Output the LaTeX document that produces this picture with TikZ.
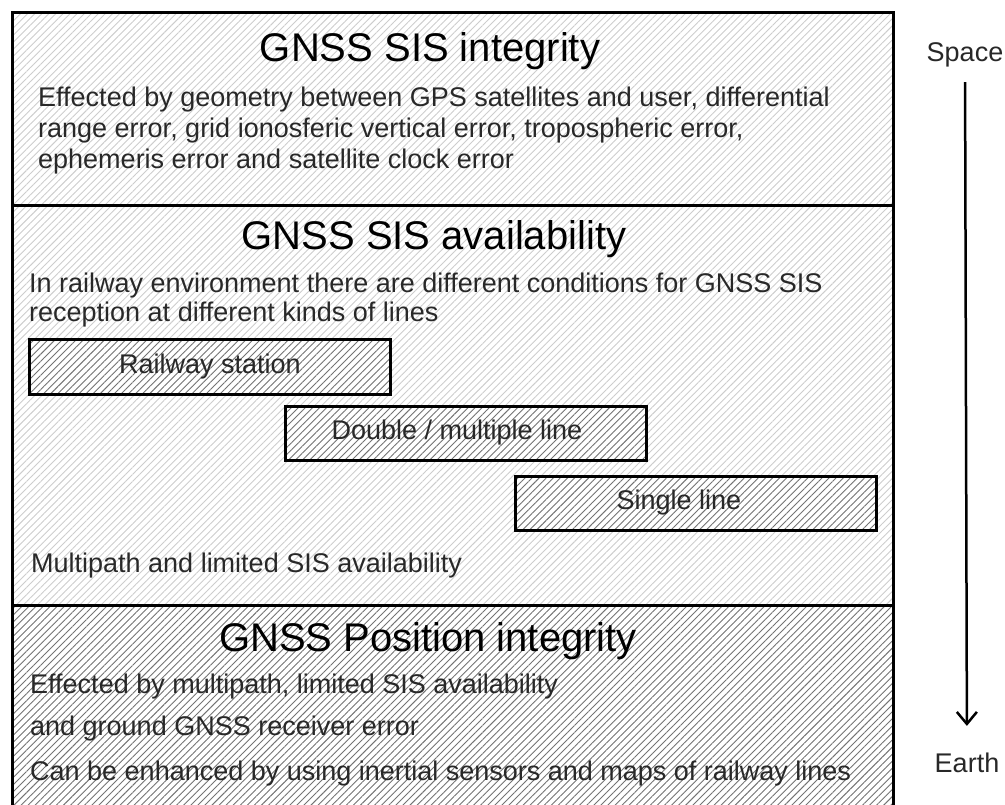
\documentclass[tikz,border=0pt]{standalone}
\usepackage{fontspec}
\setmainfont{Liberation Sans}
\usetikzlibrary{patterns.meta,arrows.meta}
\definecolor{hatchlight}{RGB}{205,205,205}
\definecolor{hatchdark}{RGB}{115,115,115}
\definecolor{bodytext}{RGB}{40,40,40}
\tikzset{
  hatch/.style={pattern={Lines[angle=45,distance=5pt,line width=0.9pt]},pattern color=#1},
  sectitle/.style={font=\fontsize{40}{46}\selectfont, anchor=base, inner sep=0pt},
  body/.style={font=\fontsize{27}{30}\selectfont, text=bodytext, anchor=base west, inner sep=0pt},
  linebox/.style={draw, line width=3pt, preaction={fill=white}, hatch=hatchdark,
    minimum width=361pt, minimum height=54pt, inner sep=0pt, text=bodytext,
    font=\fontsize{27}{30}\selectfont},
  sidelabel/.style={font=\fontsize{27}{30}\selectfont, text=bodytext}
}
\begin{document}
\begin{tikzpicture}[x=1pt,y=-1pt]
\useasboundingbox (0,0) rectangle (1005,805);

% hatched sections
\fill[hatch=hatchlight] (12,13) rectangle (893,606);
\fill[hatch=hatchdark] (12,606) rectangle (893,805);
\draw[line width=3pt] (12,815) -- (12,13) -- (893,13) -- (893,815);
\draw[line width=3pt] (12,206) -- (893,206);
\draw[line width=3pt] (12,605) -- (893,605);

% signal in space integrity
\node[sectitle] (sisint) at (430,62) {GNSS SIS integrity};
\node[body] (sisint1) at (38,107) {Effected by geometry between GPS satellites and user, differential};
\node[body] (sisint2) at (38,138) {range error, grid ionosferic vertical error, tropospheric error,};
\node[body] (sisint3) at (38,169) {ephemeris error and satellite clock error};

% signal in space availability
\node[sectitle] (sisavail) at (434,250) {GNSS SIS availability};
\node[body] (sisavail1) at (29,293) {In railway environment there are different conditions for GNSS SIS};
\node[body] (sisavail2) at (29,322) {reception at different kinds of lines};
\node[linebox] (station) at (210,367) {Railway station};
\node[linebox] (double) at (466,433) {\hspace*{-18pt}Double / multiple line};
\node[linebox] (single) at (696,503) {\hspace*{-34pt}Single line};
\node[body] (multipath) at (31,572) {Multipath and limited SIS availability};

% position integrity
\node[sectitle] (posint) at (428,651) {GNSS Position integrity};
\node[body] (posint1) at (30,693) {Effected by multipath, limited SIS availability};
\node[body] (posint2) at (30,735) {and ground GNSS receiver error};
\node[body] (posint3) at (30,780) {Can be enhanced by using inertial sensors and maps of railway lines};

% space to earth
\node[sidelabel, anchor=base] (space) at (965,62) {Space};
\node[sidelabel, anchor=base] (earth) at (967,772) {Earth};
\draw[-{Straight Barb[length=12pt,width=20pt]}, line width=2.5pt, shorten <=11pt, shorten >=23pt] (space) -- (earth);

\end{tikzpicture}
\end{document}
